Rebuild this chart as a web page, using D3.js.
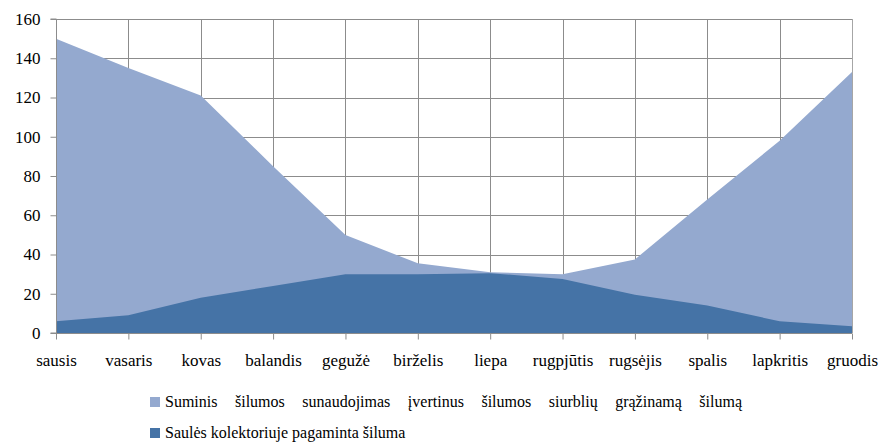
<!DOCTYPE html>
<html>
<head>
<meta charset="utf-8">
<style>
  html, body { margin: 0; padding: 0; background: #fff; font-family: "Liberation Serif", serif; }
  svg { display: block; }
  svg text { fill: #000; }
</style>
<script src="https://cdnjs.cloudflare.com/ajax/libs/d3/7.8.5/d3.min.js"></script>
</head>
<body>
<svg id="chart" width="881" height="442" style="font-family:'Liberation Serif', serif" font-family="Liberation Serif">
  <g id="base"></g>
</svg>
<script>
// Months (Lithuanian)
const months = ["sausis", "vasaris", "kovas", "balandis", "gegužė", "birželis",
                "liepa", "rugpjūtis", "rugsėjis", "spalis", "lapkritis", "gruodis"];
// Total heat consumption including heat returned by heat pumps
const totalHeat = [150, 135, 121, 85, 50, 35.5, 31, 30, 37.5, 68, 98, 133];
// Heat produced by the solar collector
const solarHeat = [6, 9, 18, 24, 30, 30, 30.5, 27.5, 19.5, 14, 6, 3.5];
const yTicks = [0, 20, 40, 60, 80, 100, 120, 140, 160];
const seriesNames = [
  "Suminis šilumos sunaudojimas įvertinus šilumos siurblių grąžinamą šilumą",
  "Saulės kolektoriuje pagaminta šiluma"
];
const colors = ["#94a9cf", "#4573a6"];
const serif = "Liberation Serif";

const svg = d3.select("#chart");
const plotLeft = 56, plotRight = 852, plotTop = 19, plotBottom = 333;

const x = d3.scalePoint().domain(months).range([plotLeft, plotRight]);
const y = d3.scaleLinear().domain([0, 160]).range([plotBottom, plotTop]);

function draw() {
  svg.selectAll("g.chart").remove();
  const root = svg.append("g").attr("class", "chart");

  // Grid
  const grid = root.append("g");
  grid.selectAll("line.h").data(yTicks.slice(1)).join("line")
    .attr("x1", plotLeft).attr("x2", plotRight)
    .attr("y1", d => Math.round(y(d)) + 0.5).attr("y2", d => Math.round(y(d)) + 0.5)
    .attr("stroke", "#8c8c8c").attr("stroke-width", 1);
  grid.selectAll("line.v").data(months.slice(1)).join("line")
    .attr("x1", d => Math.round(x(d)) + 0.5).attr("x2", d => Math.round(x(d)) + 0.5)
    .attr("y1", plotTop).attr("y2", plotBottom)
    .attr("stroke", "#8c8c8c").attr("stroke-width", 1);

  // Areas: total consumption behind, solar production in front
  const area = vals => d3.area()
    .x((d, i) => x(months[i]))
    .y0(y(0))
    .y1(d => y(d))(vals);
  root.append("path").attr("d", area(totalHeat)).attr("fill", colors[0]);
  root.append("path").attr("d", area(solarHeat)).attr("fill", colors[1]);

  // Right border of the plot
  root.append("line")
    .attr("x1", plotRight + 0.5).attr("x2", plotRight + 0.5).attr("y1", plotTop).attr("y2", plotBottom)
    .attr("stroke", "#a6a6a6");

  // Y axis
  const yAxis = root.append("g").attr("transform", `translate(${plotLeft + 0.5},0)`)
    .call(d3.axisLeft(y).tickValues(yTicks).tickSize(6).tickPadding(10).tickFormat(d3.format("d")));
  yAxis.attr("font-family", serif).attr("font-size", 17);
  yAxis.select(".domain").attr("stroke", "#8c8c8c").attr("d", `M-6,${y(0)}H0V${y(160)}H-6`);
  yAxis.selectAll(".tick line").attr("stroke", "#8c8c8c");
  yAxis.selectAll("text").attr("font-family", serif).attr("fill", "#000");

  // X axis
  const xAxis = root.append("g").attr("transform", `translate(0,${plotBottom + 0.5})`)
    .call(d3.axisBottom(x).tickSize(6).tickPadding(14));
  xAxis.attr("font-family", serif).attr("font-size", 17);
  xAxis.select(".domain").attr("stroke", "#8c8c8c").attr("d", `M${plotLeft},0H${plotRight}`);
  xAxis.selectAll(".tick line").attr("stroke", "#8c8c8c");
  xAxis.selectAll("text").attr("font-family", serif).attr("fill", "#000");

  // Legend
  const legend = root.append("g").attr("font-family", serif).attr("font-size", 16);
  const legY = [402, 433];
  const legEnd = [742, null];
  seriesNames.forEach((name, i) => {
    legend.append("rect").attr("x", 150).attr("y", legY[i] - 5).attr("width", 10).attr("height", 10)
      .attr("fill", colors[i]);
    const t = legend.append("text").attr("x", 165).attr("y", legY[i] + 5)
      .attr("font-family", serif).text(name);
    if (legEnd[i]) {
      // spread the words of the long entry across the legend width
      const gaps = name.split(" ").length - 1;
      const w = t.node().getComputedTextLength();
      const extra = (legEnd[i] - 165 - w) / gaps;
      if (extra > 0) t.attr("word-spacing", extra);
    }
  });
}

draw();
if (document.fonts && document.fonts.ready) {
  document.fonts.ready.then(draw);
}
</script>
</body>
</html>
